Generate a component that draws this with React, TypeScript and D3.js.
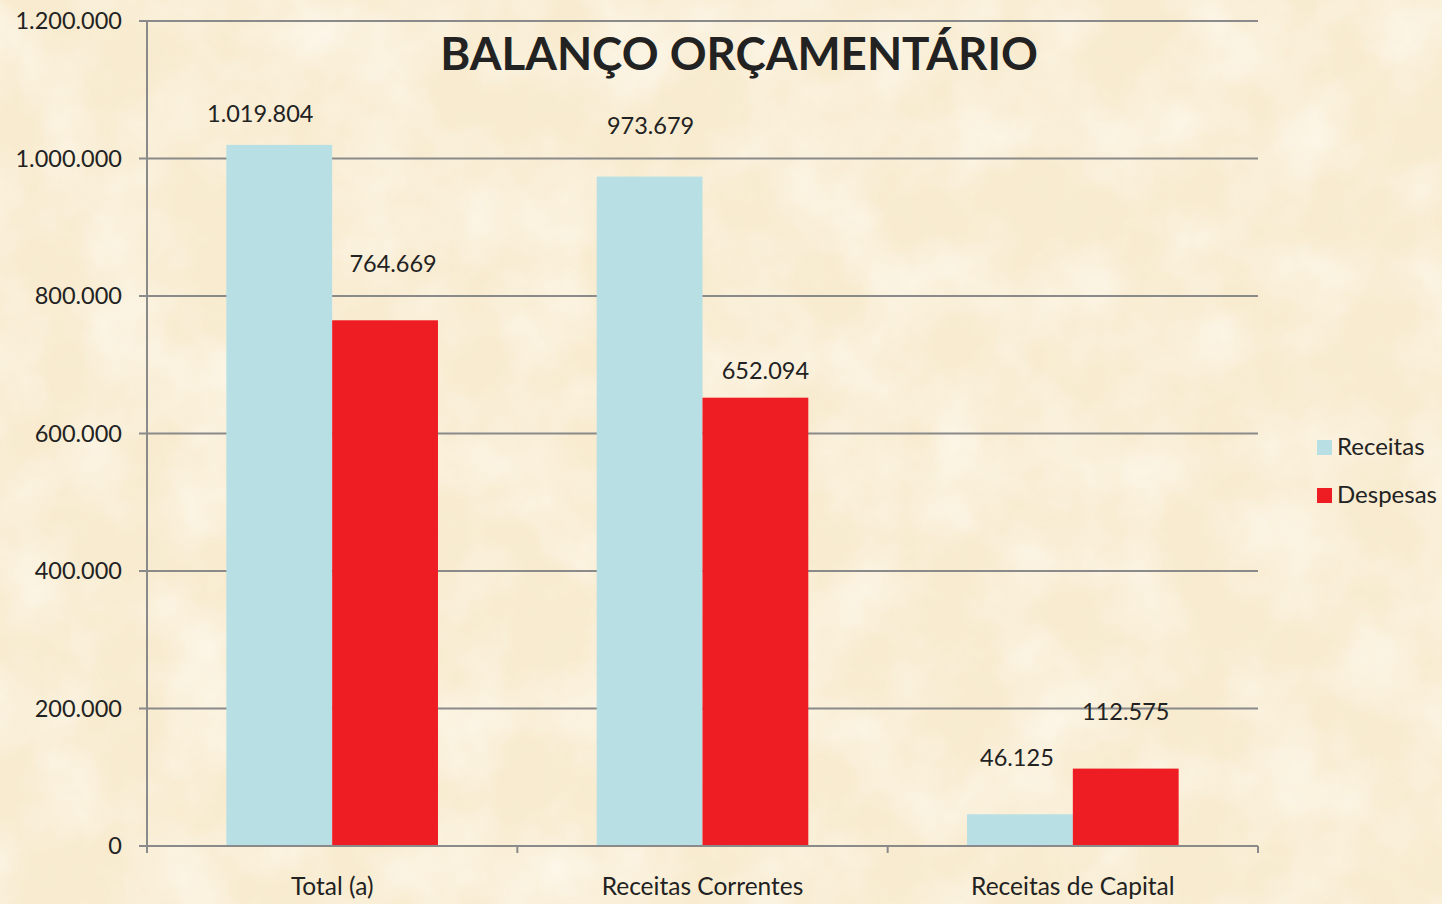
import React from "react";
import * as d3 from "d3";

const categories = ["Total (a)", "Receitas Correntes", "Receitas de Capital"];
const seriesNames = ["Receitas", "Despesas"];
const receitas = [1019804, 973679, 46125];
const despesas = [764669, 652094, 112575];
const yTicks = [0, 200000, 400000, 600000, 800000, 1000000, 1200000];
const colors = ["#b8dfe3", "#ee1d24"];
// label offsets relative to bar tops (layout tweaks)
const labelDy = [[23, 48], [43, 19], [48, 49]];
const labelDx = [[-19, 8], [1, 10], [-3, 0]];

const W = 1442, H = 904;
const M = { left: 147, right: 1258, top: 21, bottom: 846 };
const FONT = "Lato, 'Open Sans', sans-serif";

const fmt = (v: number) => {
  const s = Math.round(v).toString();
  return s.replace(/\B(?=(\d{3})+(?!\d))/g, ".");
};

export default function App() {
  const x0 = d3.scaleBand<string>().domain(categories).range([M.left, M.right]).paddingInner(0).paddingOuter(0);
  const x1 = d3.scaleBand<string>().domain(seriesNames).range([0, x0.bandwidth()]).paddingInner(0).paddingOuter(0.75);
  const y = d3.scaleLinear().domain([0, 1200000]).range([M.bottom, M.top]);
  const series = [receitas, despesas];

  return (
    <div style={{ position: "absolute", left: 0, top: 0, width: W, height: H }}>
      <svg width={W} height={H} style={{ display: "block" }}>
        <defs>
          <filter id="parch" x="0" y="0" width="100%" height="100%">
            <feTurbulence type="fractalNoise" baseFrequency="0.012" numOctaves="4" seed="7" result="n" />
            <feColorMatrix in="n" type="matrix"
              values="0 0 0 0 1  0 0 0 0 0.98  0 0 0 0 0.93  0 0 0 -1.6 1.05" />
          </filter>
          <filter id="parch2" x="0" y="0" width="100%" height="100%">
            <feTurbulence type="fractalNoise" baseFrequency="0.035" numOctaves="3" seed="3" result="n" />
            <feColorMatrix in="n" type="matrix"
              values="0 0 0 0 0.93  0 0 0 0 0.85  0 0 0 0 0.66  0 0 0 -1.5 0.9" />
          </filter>
        </defs>
        <rect x={0} y={0} width={W} height={H} fill="#f8ebcf" />
        <rect x={0} y={0} width={W} height={H} filter="url(#parch2)" opacity={0.45} />
        <rect x={0} y={0} width={W} height={H} filter="url(#parch)" opacity={0.7} />

        {/* gridlines */}
        {yTicks.map((t) => (
          <line key={t} x1={M.left - 8} x2={M.right} y1={y(t)} y2={y(t)} stroke="#8a8a8a" strokeWidth={2} />
        ))}
        {/* y axis */}
        <line x1={M.left} x2={M.left} y1={M.top - 1} y2={M.bottom + 7} stroke="#8a8a8a" strokeWidth={2} />
        {/* x ticks */}
        {[...categories.map((c) => x0(c)!), M.right].map((xv, i) => (
          <line key={i} x1={xv} x2={xv} y1={M.bottom} y2={M.bottom + 7} stroke="#8a8a8a" strokeWidth={2} />
        ))}
        {yTicks.map((t) => (
          <text key={t} x={122} y={y(t)} dy="0.36em" textAnchor="end" fontFamily={FONT} fontSize={23.5} fill="#222">
            {fmt(t)}
          </text>
        ))}

        {/* bars */}
        {categories.map((c, ci) =>
          series.map((s, si) => {
            const bx = x0(c)! + x1(seriesNames[si])!;
            const by = y(s[ci]);
            return (
              <g key={c + si}>
                <rect x={bx} y={by} width={x1.bandwidth()} height={y(0) - by} fill={colors[si]} />
                <text x={bx + x1.bandwidth() / 2 + labelDx[ci][si]} y={by - labelDy[ci][si]} textAnchor="middle"
                  fontFamily={FONT} fontSize={23.5} fill="#222">
                  {fmt(s[ci])}
                </text>
              </g>
            );
          })
        )}
        {/* axis line on top */}
        <line x1={M.left - 8} x2={M.right} y1={M.bottom} y2={M.bottom} stroke="#8a8a8a" strokeWidth={2} />

        {categories.map((c) => (
          <text key={c} x={x0(c)! + x0.bandwidth() / 2} y={895} textAnchor="middle" fontFamily={FONT} fontSize={24.5} fill="#222">
            {c}
          </text>
        ))}

        <text x={739} y={70} textAnchor="middle" fontFamily={FONT} fontWeight="bold" fontSize={45.7} fill="#222">
          BALANÇO ORÇAMENTÁRIO
        </text>

        {seriesNames.map((n, i) => (
          <g key={n} transform={`translate(1317, ${440 + i * 48})`}>
            <rect x={0} y={0} width={15} height={15} fill={colors[i]} />
            <text x={20} y={15} fontFamily={FONT} fontSize={24} fill="#222">{n}</text>
          </g>
        ))}
      </svg>
    </div>
  );
}
